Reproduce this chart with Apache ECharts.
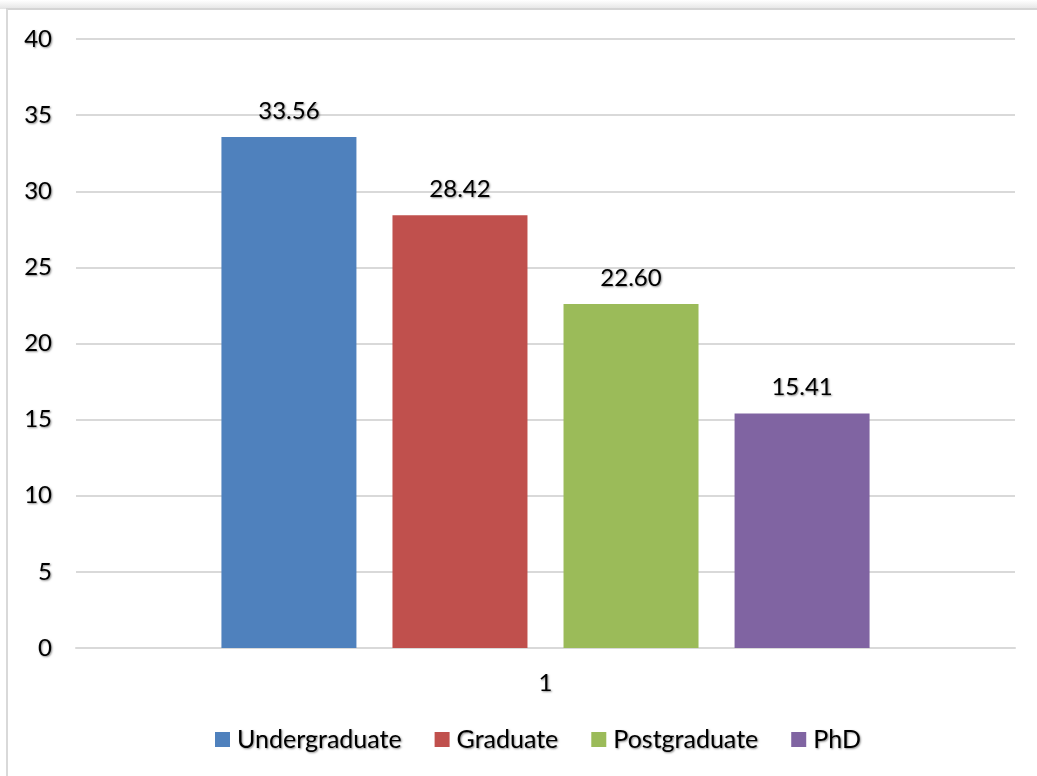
<!DOCTYPE html>
<html>
<head>
<meta charset="utf-8">
<script src="https://cdn.jsdelivr.net/npm/echarts@6/dist/echarts.min.js"></script>
<style>
  html, body { margin: 0; padding: 0; background: #ffffff; }
  #chart { width: 1037px; height: 776px; }
</style>
</head>
<body>
<div id="chart"></div>
<script>
// Single category, one bar per degree level
const categories = ['1'];
const seriesNames = ['Undergraduate', 'Graduate', 'Postgraduate', 'PhD'];
const seriesValues = [[33.56], [28.42], [22.60], [15.41]];
const seriesColors = ['#4F81BD', '#C0504D', '#9BBB59', '#8064A2'];
const yTicks = { min: 0, max: 40, interval: 5 };

const FONT = 'Lato';
const textShadow = {
  textShadowColor: 'rgba(0,0,0,0.45)',
  textShadowBlur: 2,
  textShadowOffsetX: 1,
  textShadowOffsetY: 1
};

const chart = echarts.init(document.getElementById('chart'), null, { renderer: 'canvas' });

const series = seriesNames.map((name, i) => ({
  name: name,
  type: 'bar',
  data: seriesValues[i],
  barWidth: 135,
  barGap: '26.7%',
  itemStyle: { color: seriesColors[i] },
  label: {
    show: true,
    position: 'top',
    distance: 14,
    formatter: p => p.value.toFixed(2),
    color: '#000',
    fontFamily: FONT,
    fontSize: 24,
    ...textShadow
  }
}));

chart.setOption({
  backgroundColor: '#ffffff',
  animation: false,
  graphic: [
    {
      type: 'rect',
      shape: { x: 0, y: 0, width: 1037, height: 9 },
      style: {
        fill: new echarts.graphic.LinearGradient(0, 0, 0, 1, [
          { offset: 0, color: '#ffffff' },
          { offset: 1, color: '#e4e4e4' }
        ])
      },
      silent: true
    },
    {
      type: 'line',
      shape: { x1: 6, y1: 9, x2: 1037, y2: 9 },
      style: { stroke: '#d4d4d4', lineWidth: 2 },
      silent: true
    },
    {
      type: 'line',
      shape: { x1: 7, y1: 9, x2: 7, y2: 776 },
      style: { stroke: '#d9d9d9', lineWidth: 2 },
      silent: true
    }
  ],
  grid: { left: 76, right: 22, top: 39, bottom: 128, containLabel: false },
  legend: {
    data: seriesNames,
    bottom: 19,
    left: 210,
    icon: 'rect',
    itemWidth: 15,
    itemHeight: 15,
    itemGap: 33,
    textStyle: { color: '#000', fontFamily: FONT, fontSize: 25, padding: [0, 0, 0, 2], ...textShadow }
  },
  xAxis: {
    type: 'category',
    data: categories,
    axisLine: { show: true, lineStyle: { color: '#d9d9d9', width: 2 } },
    axisTick: { show: false },
    axisLabel: { color: '#000', fontFamily: FONT, fontSize: 24, margin: 23, ...textShadow }
  },
  yAxis: {
    type: 'value',
    min: yTicks.min,
    max: yTicks.max,
    interval: yTicks.interval,
    axisLine: { show: false },
    axisTick: { show: false },
    splitLine: { lineStyle: { color: '#d9d9d9', width: 2 } },
    axisLabel: { color: '#000', fontFamily: FONT, fontSize: 24, margin: 24, ...textShadow }
  },
  series: series
});
</script>
</body>
</html>
